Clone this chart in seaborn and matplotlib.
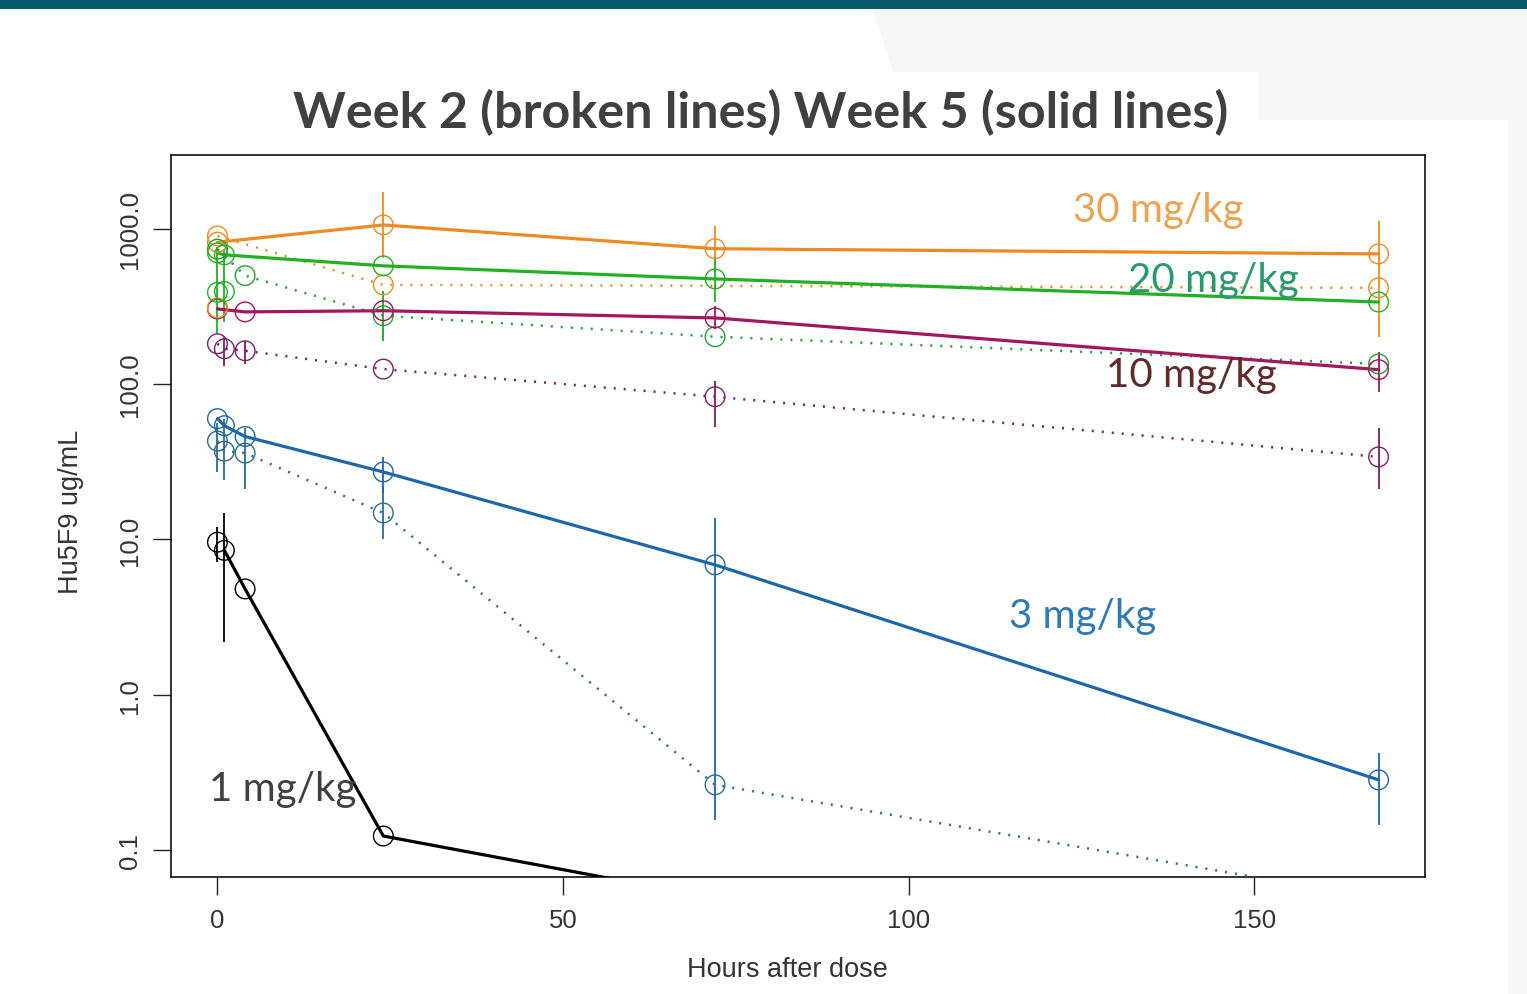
import numpy as np
import pandas as pd
import matplotlib
matplotlib.use("Agg")
import matplotlib.pyplot as plt
import seaborn as sns
from matplotlib.patches import Polygon, Rectangle

nan = np.nan

# ---------------- data ----------------
hours = [0, 1, 4, 24, 72, 168]
doses = ["30 mg/kg", "20 mg/kg", "10 mg/kg", "3 mg/kg", "1 mg/kg"]

# Week 2 (broken lines)
wk2_30 = [900, nan, nan, 436, nan, 417]
wk2_20 = [740, nan, 500, 276, 202, 135]
wk2_10 = [182, 169, 164, 125, 83, 34]
wk2_3 = [43, 37, 36, 14.8, 0.263, 0.049]
wk2_1 = [9.6, nan, nan, nan, nan, nan]

# Week 5 (solid lines)
wk5_30 = [820, nan, nan, 1060, 745, 690]
wk5_20 = [700, 680, nan, 578, 476, 338]
wk5_10 = [305, nan, 292, 297, 267, 124]
wk5_3 = [60, 54, 46, 27.2, 6.86, 0.283]
wk5_1 = [nan, 8.5, 4.8, 0.123, 0.049, nan]

# extra pre-dose observations (points only)
pre_30 = [310, nan, nan, nan, nan, nan]
pre_20 = [390, 395, nan, nan, nan, nan]

# error bar limits (lower / upper)
wk2_30_lo = [nan, nan, nan, nan, nan, nan]
wk2_30_hi = [nan, nan, nan, nan, nan, nan]
wk5_30_lo = [nan, nan, nan, 650, 531, 200]
wk5_30_hi = [nan, nan, nan, 1730, 1045, 1130]
wk2_20_lo = [nan, nan, nan, 190, nan, nan]
wk2_20_hi = [nan, nan, nan, 400, nan, nan]
wk5_20_lo = [nan, nan, nan, nan, 340, nan]
wk5_20_hi = [nan, nan, nan, nan, 660, nan]
pre_20_lo = [211, 250, nan, nan, nan, nan]
pre_20_hi = [766, 740, nan, nan, nan, nan]
wk2_10_lo = [nan, 131, 135, nan, 53, 21]
wk2_10_hi = [nan, 202, 190, nan, 105, 52]
wk5_10_lo = [nan, nan, nan, nan, 227, 89]
wk5_10_hi = [nan, nan, nan, nan, 319, 160]
wk2_3_lo = [27, 24, 21, 10, nan, nan]
wk2_3_hi = [56, 60, 52, 22, nan, nan]
wk5_3_lo = [nan, nan, nan, 20, 0.155, 0.145]
wk5_3_hi = [nan, nan, nan, 34, 13.8, 0.42]
wk2_1_lo = [7.2, nan, nan, nan, nan, nan]
wk2_1_hi = [12, nan, nan, nan, nan, nan]
wk5_1_lo = [nan, 2.2, nan, nan, nan, nan]
wk5_1_hi = [nan, 14.9, nan, nan, nan, nan]

x_ticks = [0, 50, 100, 150]
y_ticks = [0.1, 1, 10, 100, 1000]
y_tick_labels = ["0.1", "1.0", "10.0", "100.0", "1000.0"]

# ---------------- styles ----------------
col_solid = {"30 mg/kg": "#EE8A22", "20 mg/kg": "#22B022", "10 mg/kg": "#A3155C",
             "3 mg/kg": "#1F66A8", "1 mg/kg": "#000000"}
col_dot = {"30 mg/kg": "#EE8A22", "20 mg/kg": "#22A030", "10 mg/kg": "#7A1F6A",
           "3 mg/kg": "#2D6C8C", "1 mg/kg": "#000000"}
label_col = {"30 mg/kg": "#E9A354", "20 mg/kg": "#2A9A6E", "10 mg/kg": "#5E2B2B",
             "3 mg/kg": "#2F7AB5", "1 mg/kg": "#404040"}

series = [
    ("30 mg/kg", "Week 2", wk2_30, wk2_30_lo, wk2_30_hi),
    ("30 mg/kg", "Week 5", wk5_30, wk5_30_lo, wk5_30_hi),
    ("20 mg/kg", "Week 2", wk2_20, wk2_20_lo, wk2_20_hi),
    ("20 mg/kg", "Week 5", wk5_20, wk5_20_lo, wk5_20_hi),
    ("10 mg/kg", "Week 2", wk2_10, wk2_10_lo, wk2_10_hi),
    ("10 mg/kg", "Week 5", wk5_10, wk5_10_lo, wk5_10_hi),
    ("3 mg/kg", "Week 2", wk2_3, wk2_3_lo, wk2_3_hi),
    ("3 mg/kg", "Week 5", wk5_3, wk5_3_lo, wk5_3_hi),
    ("1 mg/kg", "Week 2", wk2_1, wk2_1_lo, wk2_1_hi),
    ("1 mg/kg", "Week 5", wk5_1, wk5_1_lo, wk5_1_hi),
    ("30 mg/kg", "Pre", pre_30, [nan] * 6, [nan] * 6),
    ("20 mg/kg", "Pre", pre_20, pre_20_lo, pre_20_hi),
]

rows = []
for dose, week, vals, lo, hi in series:
    for h, v, l, u in zip(hours, vals, lo, hi):
        rows.append(dict(dose=dose, week=week, hour=h, conc=v, lo=l, hi=u))
df = pd.DataFrame(rows)

# ---------------- figure ----------------
sns.set_theme(style="ticks")
plt.rcParams["font.family"] = ["Liberation Sans", "DejaVu Sans"]

W, H = 1527, 995
fig = plt.figure(figsize=(W / 100, H / 100), dpi=100)
fig.patch.set_facecolor("white")

# slide decorations
poly = [(873, 10), (1527, 10), (1527, 995), (1509, 995), (1509, 121),
        (1258, 121), (1258, 73), (893, 73)]
fig.patches.append(Polygon([(x / W, 1 - y / H) for x, y in poly], closed=True,
                           transform=fig.transFigure, facecolor="#F6F6F6",
                           edgecolor="none", zorder=0))
fig.patches.append(Rectangle((0, 1 - 10 / H), 1, 10 / H, transform=fig.transFigure,
                             facecolor="#075B67", edgecolor="none", zorder=1))

ax = fig.add_axes([171 / W, 1 - 878 / H, (1425 - 171) / W, (878 - 156) / H])
ax.set_facecolor("white")
ax.set_yscale("log")

for dose, week, vals, lo, hi in series:
    sub = df[(df.dose == dose) & (df.week == week)]
    pts = sub.dropna(subset=["conc"])
    if week == "Week 5":
        c = col_solid[dose]
        sns.lineplot(data=pts, x="hour", y="conc", ax=ax, color=c, lw=2.3,
                     estimator=None, sort=True, legend=False, zorder=3)
    elif week == "Week 2":
        c = col_dot[dose]
        sns.lineplot(data=pts, x="hour", y="conc", ax=ax, color=c, lw=1.8,
                     linestyle=(0, (0.8, 3.2)), estimator=None, sort=True,
                     legend=False, zorder=3)
    else:
        c = col_solid[dose]
    eb = sub.dropna(subset=["lo", "hi"])
    if len(eb):
        ax.vlines(eb["hour"], eb["lo"], eb["hi"], colors=c, lw=1.3, zorder=2)
    sns.scatterplot(data=pts, x="hour", y="conc", ax=ax, color=c, s=200,
                    marker="o", linewidth=1.0, legend=False, zorder=4)
    coll = ax.collections[-1]
    coll.set_facecolor("none")
    coll.set_edgecolor(c)

ax.set_xlim(-6.72, 174.72)
ax.set_ylim(0.067, 2990)
ax.set_xticks(x_ticks)
ax.set_xticklabels([str(t) for t in x_ticks])
ax.set_yticks(y_ticks)
ax.set_yticklabels(y_tick_labels, rotation=90, va="center")
ax.yaxis.set_minor_locator(matplotlib.ticker.NullLocator())
ax.tick_params(axis="both", which="major", length=13, width=1.0, color="#222222",
               labelsize=18.5, labelcolor="#333333", direction="out")
ax.tick_params(axis="y", pad=8)
ax.tick_params(axis="x", pad=9)
for sp in ax.spines.values():
    sp.set_visible(True)
    sp.set_color("#111111")
    sp.set_linewidth(1.2)

ax.set_xlabel("Hours after dose", fontsize=19.5, color="#333333")
ax.set_ylabel("Hu5F9 ug/mL", fontsize=19.5, color="#333333")
ax.xaxis.set_label_coords((787 - 171) / 1254, (878 - 957) / 722)
ax.yaxis.set_label_coords((84 - 171) / 1254, (878 - 512) / 722)

label_pos = {"30 mg/kg": (1158, 222), "20 mg/kg": (1213, 292), "10 mg/kg": (1191, 387),
             "3 mg/kg": (1083, 628), "1 mg/kg": (283, 801)}
for d in doses:
    px, py = label_pos[d]
    ax.text((px - 171) / 1254, (878 - py) / 722, d, transform=ax.transAxes,
            ha="center", va="baseline", fontsize=29, color=label_col[d],
            family=["Lato", "DejaVu Sans"], zorder=5)

fig.text(761 / W, 1 - 128 / H, "Week 2 (broken lines) Week 5 (solid lines)",
         ha="center", va="baseline", fontsize=36.2, fontweight="bold",
         color="#404040", family=["Lato", "DejaVu Sans"])

fig.savefig("out.png", dpi=100, facecolor=fig.get_facecolor())
